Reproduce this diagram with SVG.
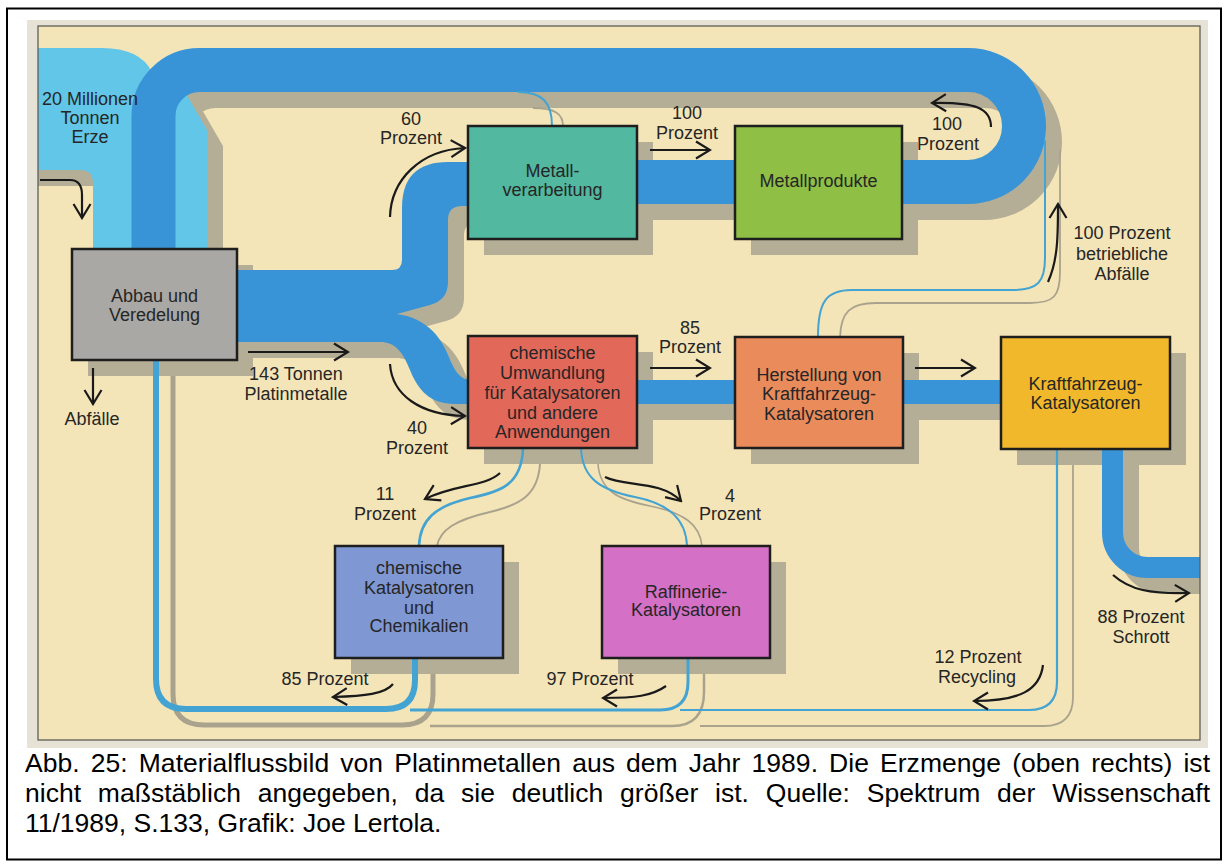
<svg xmlns="http://www.w3.org/2000/svg" width="1229" height="866" viewBox="0 0 1229 866">
<defs>
<style>
.lbl{font-family:"Liberation Sans",Arial,Helvetica,sans-serif;font-size:18px;fill:#262626;text-anchor:middle}
.box{stroke:#1e1e1e;stroke-width:2.5}
.sh{fill:#b4ae96}
.arr{fill:none;stroke:#1a1a1a;stroke-width:2.2;marker-end:url(#ah)}
.tc{fill:none;stroke:#43a3d2}
.tg{fill:none;stroke:#a9a38d}
.cap{font-family:"Liberation Sans",Arial,Helvetica,sans-serif;font-size:26.5px;fill:#000}
</style>
<marker id="ah" markerUnits="userSpaceOnUse" markerWidth="18" markerHeight="20" viewBox="0 0 18 20" refX="16" refY="10" orient="auto">
<path d="M2,1.5 L16,10 L2,18.5" fill="none" stroke="#1a1a1a" stroke-width="2.2"/>
</marker>
<clipPath id="fr"><rect x="38" y="26" width="1162" height="714"/></clipPath>
<path id="ore" d="M 20 48 L 102 48 Q 140 48 152 72 L 160 100 L 185 92 L 207 130 L 207 249 L 93 249 L 93 183 Q 93 170 80 170 L 20 170 Z"/>
<path id="fork" d="M 230 270 L 392 270 Q 402 270 402 260 L 402 208 Q 402 162 448 162 L 472 162 L 472 206 L 462 206 Q 448 206 448 220 L 448 282 Q 448 300 430 305 L 397 314 C 425 318 440 335 448 355 C 455 372 460 380 472 380 L 472 404 L 455 404 C 430 404 418 390 410 370 C 403 352 395 342 380 342 L 230 342 Z"/>
<path id="loop" d="M 630 182 H 968 A 56 56 0 0 0 968 70 H 199.5 A 46 46 0 0 0 153.5 116 V 252" fill="none" stroke-width="44"/>
<path id="mid" d="M 465 392 H 1005" fill="none" stroke-width="24"/>
<path id="scr" d="M 1112.5 445 V 532.5 A 35 35 0 0 0 1147.5 567.5 H 1230" fill="none" stroke-width="21"/>
</defs>
<rect x="0" y="0" width="1229" height="866" fill="#ffffff"/>
<rect x="7" y="8.5" width="1214" height="851" fill="none" stroke="#000" stroke-width="2"/>
<rect x="27" y="20" width="1181" height="728" fill="#e6e2d5"/>
<rect x="38" y="26" width="1162" height="714" fill="#f4e5b8"/>

<g id="shadows" clip-path="url(#fr)">
<g transform="translate(16,16)" fill="#b4ae96" stroke="#b4ae96">
<use href="#ore" stroke="none"/>
<use href="#fork" stroke="none"/>
<use href="#loop"/>
<use href="#mid"/>
<use href="#scr"/>
</g>
<rect class="sh" x="88" y="265" width="165" height="111"/>
<rect class="sh" x="484" y="142" width="169" height="113"/>
<rect class="sh" x="751" y="142" width="167" height="113"/>
<rect class="sh" x="484" y="352" width="169" height="112"/>
<rect class="sh" x="751" y="353" width="168" height="111"/>
<rect class="sh" x="1017" y="353" width="169" height="112"/>
<rect class="sh" x="351" y="562" width="168" height="112"/>
<rect class="sh" x="618" y="562" width="168" height="112"/>
</g>

<g id="connectors" clip-path="url(#fr)">
<use href="#ore" fill="#62c6e8"/>
<g fill="#3894d6" stroke="#3894d6">
<use href="#fork" stroke="none"/>
<use href="#loop"/>
<use href="#mid"/>
<use href="#scr"/>
</g>
<path class="tg" stroke-width="1.8" d="M 533 108 C 555 108 563 114 563 126"/>
<path class="tc" stroke-width="2" d="M 518 92 C 542 92 552 102 552 126"/>
<path class="tg" stroke-width="1.8" d="M 840 337 C 841 312 850 303 876 303 L 1030 303 C 1054 303 1060 296 1060 272 L 1060 150"/>
<path class="tc" stroke-width="2" d="M 818 337 C 818 302 826 290 852 290 L 1012 290 C 1038 290 1045 282 1045 258 L 1045 140"/>
<path class="tg" stroke-width="2" d="M 540 464 C 538 495 520 505 490 512 C 455 520 440 530 437 546"/>
<path class="tc" stroke-width="2.6" d="M 523 448 C 522 485 500 492 470 498 C 435 506 420 520 419 546"/>
<path class="tg" stroke-width="1.6" d="M 598 464 C 600 492 620 500 650 506 C 685 513 700 525 702 546"/>
<path class="tc" stroke-width="2" d="M 581 448 C 582 478 600 490 635 497 C 670 504 686 520 687 546"/>
<path class="tg" stroke-width="1.8" d="M 1073 465 V 697 Q 1073 726 1044 726 H 700"/>
<path class="tg" stroke-width="2.5" d="M 704 674 V 692 Q 704 726 672 726 H 430"/>
<path class="tg" stroke-width="5" d="M 433 674 V 694 Q 433 725 402 725 H 204 Q 173 725 173 694 V 376"/>
<path class="tc" stroke-width="2.2" d="M 1057 449 V 682 Q 1057 710 1029 710 H 680"/>
<path class="tc" stroke-width="3" d="M 688 658 V 682 Q 688 710 660 710 H 410"/>
<path class="tc" stroke-width="6" d="M 415 658 V 680 Q 415 709 386 709 H 186 Q 156 709 156 679 V 360"/>

<path class="arr" d="M 40 180 H 70 Q 82 180 82 195 V 218"/>
<path class="arr" d="M 93 368 V 404"/>
<path class="arr" d="M 390 217 C 391 180 420 150 465 148"/>
<path class="arr" d="M 650 150 H 710"/>
<path class="arr" d="M 991 127 C 991 108 975 102 932 103"/>
<path class="arr" d="M 1048 282 C 1058 260 1058 235 1058 204"/>
<path class="arr" d="M 248 352 H 348"/>
<path class="arr" d="M 390 364 C 392 395 420 415 465 416"/>
<path class="arr" d="M 650 368 H 710"/>
<path class="arr" d="M 915 368 H 975"/>
<path class="arr" d="M 500 473 C 485 487 455 484 425 499"/>
<path class="arr" d="M 605 477 C 625 487 660 480 681 501"/>
<path class="arr" d="M 393 684 C 385 694 365 696 333 697"/>
<path class="arr" d="M 666 686 C 652 696 635 698 603 698"/>
<path class="arr" d="M 1043 665 C 1040 690 1020 701 974 701"/>
<path class="arr" d="M 1113 575 C 1130 590 1150 594 1189 593"/>
</g>

<g id="n-abbau">
<rect class="box" x="72" y="249" width="165" height="111" fill="#a9a8a4"/>
<text class="lbl" x="154.5" y="301.5">Abbau und</text>
<text class="lbl" x="154.5" y="320.5">Veredelung</text>
</g>
<g id="n-metallverarbeitung">
<rect class="box" x="468" y="126" width="169" height="113" fill="#52b8a0"/>
<text class="lbl" x="552.5" y="176.5">Metall-</text>
<text class="lbl" x="552.5" y="195.5">verarbeitung</text>
</g>
<g id="n-metallprodukte">
<rect class="box" x="735" y="126" width="167" height="113" fill="#8fbf45"/>
<text class="lbl" x="818.5" y="186.5">Metallprodukte</text>
</g>
<g id="n-umwandlung">
<rect class="box" x="468" y="336" width="169" height="112" fill="#e2685a"/>
<text class="lbl" x="552.5" y="358.5">chemische</text>
<text class="lbl" x="552.5" y="379">Umwandlung</text>
<text class="lbl" x="552.5" y="398.5">für Katalysatoren</text>
<text class="lbl" x="552.5" y="418.5">und andere</text>
<text class="lbl" x="552.5" y="438">Anwendungen</text>
</g>
<g id="n-herstellung">
<rect class="box" x="735" y="337" width="168" height="111" fill="#e98b5b"/>
<text class="lbl" x="819" y="380.5">Herstellung von</text>
<text class="lbl" x="819" y="399.5">Kraftfahrzeug-</text>
<text class="lbl" x="819" y="419.5">Katalysatoren</text>
</g>
<g id="n-kfz-kat">
<rect class="box" x="1001" y="337" width="169" height="112" fill="#f1b82b"/>
<text class="lbl" x="1085.5" y="389.5">Kraftfahrzeug-</text>
<text class="lbl" x="1085.5" y="408.5">Katalysatoren</text>
</g>
<g id="n-chem-kat">
<rect class="box" x="335" y="546" width="168" height="112" fill="#7f97d3"/>
<text class="lbl" x="419" y="573.5">chemische</text>
<text class="lbl" x="419" y="593.5">Katalysatoren</text>
<text class="lbl" x="419" y="613.5">und</text>
<text class="lbl" x="419" y="632">Chemikalien</text>
</g>
<g id="n-raffinerie">
<rect class="box" x="602" y="546" width="168" height="112" fill="#d470c6"/>
<text class="lbl" x="686" y="598">Raffinerie-</text>
<text class="lbl" x="686" y="616">Katalysatoren</text>
</g>

<g id="labels">
<text class="lbl" x="90" y="104.5">20 Millionen</text>
<text class="lbl" x="90" y="123.5">Tonnen</text>
<text class="lbl" x="90" y="142.5">Erze</text>
<text class="lbl" x="411" y="124.5">60</text>
<text class="lbl" x="411" y="143.5">Prozent</text>
<text class="lbl" x="687" y="118.5">100</text>
<text class="lbl" x="687" y="138.5">Prozent</text>
<text class="lbl" x="947" y="129.5">100</text>
<text class="lbl" x="948" y="149.5">Prozent</text>
<text class="lbl" x="1122" y="238.5">100 Prozent</text>
<text class="lbl" x="1122" y="259.5">betriebliche</text>
<text class="lbl" x="1122" y="279.5">Abfälle</text>
<text class="lbl" x="296" y="379.5">143 Tonnen</text>
<text class="lbl" x="296" y="399.5">Platinmetalle</text>
<text class="lbl" x="92" y="424.5">Abfälle</text>
<text class="lbl" x="690" y="333.5">85</text>
<text class="lbl" x="690" y="352.5">Prozent</text>
<text class="lbl" x="417" y="433.5">40</text>
<text class="lbl" x="417" y="453.5">Prozent</text>
<text class="lbl" x="385" y="499.5">11</text>
<text class="lbl" x="385" y="519.5">Prozent</text>
<text class="lbl" x="730" y="501.5">4</text>
<text class="lbl" x="730" y="519.5">Prozent</text>
<text class="lbl" x="325" y="684.5">85 Prozent</text>
<text class="lbl" x="590" y="684.5">97 Prozent</text>
<text class="lbl" x="978" y="662.5">12 Prozent</text>
<text class="lbl" x="977" y="682.5">Recycling</text>
<text class="lbl" x="1141" y="622.5">88 Prozent</text>
<text class="lbl" x="1141" y="642.5">Schrott</text>
</g>

<rect x="38" y="26" width="1162" height="714" fill="none" stroke="#5f5e58" stroke-width="1.3"/>

<g id="caption">
<text class="cap" x="25" y="772" textLength="1185" lengthAdjust="spacing" word-spacing="3.7">Abb. 25: Materialflussbild von Platinmetallen aus dem Jahr 1989. Die Erzmenge (oben rechts) ist</text>
<text class="cap" x="25" y="802" textLength="1185" lengthAdjust="spacing" word-spacing="9.4">nicht maßstäblich angegeben, da sie deutlich größer ist. Quelle: Spektrum der Wissenschaft</text>
<text class="cap" x="25" y="832">11/1989, S.133, Grafik: Joe Lertola.</text>
</g>
</svg>
